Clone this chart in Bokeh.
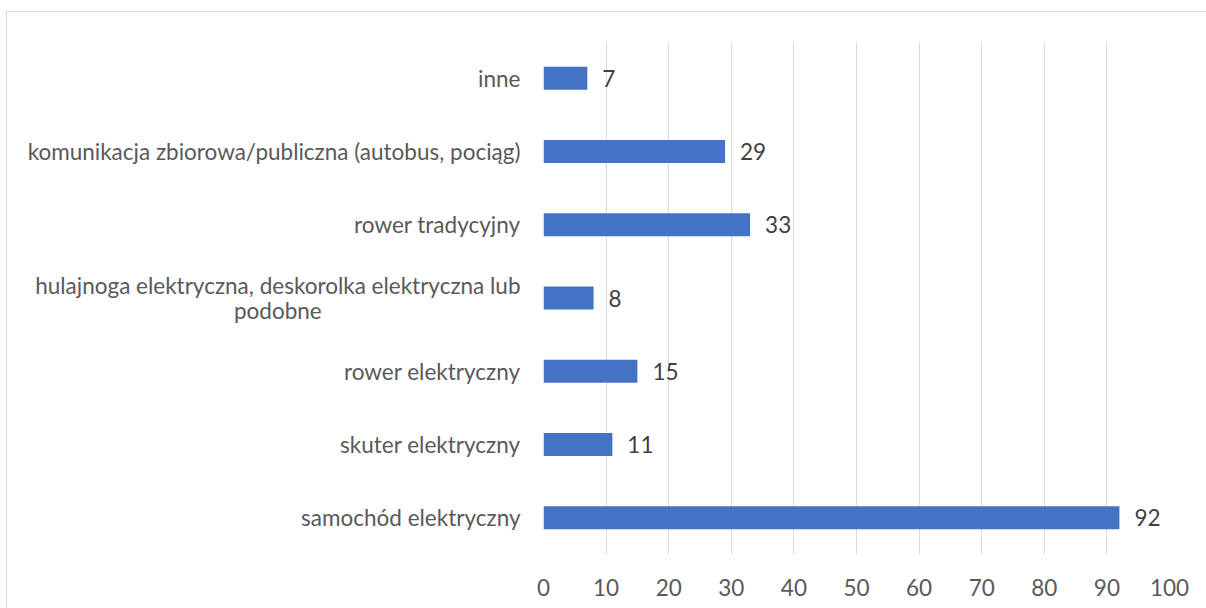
from bokeh.plotting import figure
from bokeh.models import ColumnDataSource, FactorRange, Range1d, FixedTicker
from bokeh.core.properties import value
from bokeh.embed import file_html
from bokeh.resources import INLINE

categories = [
    "samochód elektryczny",
    "skuter elektryczny",
    "rower elektryczny",
    "hulajnoga elektryczna, deskorolka elektryczna lub\npodobne",
    "rower tradycyjny",
    "komunikacja zbiorowa/publiczna (autobus, pociąg)",
    "inne",
]
counts = [92, 11, 15, 8, 33, 29, 7]
x_ticks = [0, 10, 20, 30, 40, 50, 60, 70, 80, 90, 100]

FONT = "Lato"
FS = "22.5px"
GRID = "#d9d9d9"

src = ColumnDataSource(dict(cat=categories, val=counts, lbl=[str(v) for v in counts],
                            base=[0] * len(counts)))

p = figure(
    width=1206, height=608,
    y_range=FactorRange(factors=categories),
    x_range=Range1d(0, 100),
    output_backend="svg", toolbar_location=None,
    min_border_left=543, min_border_right=37,
    min_border_top=41, min_border_bottom=54,
)
# chart-area border (top and left edges visible, as in the original)
p.border_fill_alpha = 0
p.background_fill_alpha = 0
p.styles = {
    "background": (
        f"linear-gradient({GRID},{GRID}) 6px 11px / 100% 1px no-repeat, "
        f"linear-gradient({GRID},{GRID}) 6px 11px / 1px 100% no-repeat, white"
    )
}
p.outline_line_color = None

p.hbar(y="cat", right="val", left="base", height=0.314, source=src,
       fill_color="#4472C4", line_color=None)
p.text(x="val", y="cat", text="lbl", source=src, x_offset=15,
       text_baseline="middle", text_align="left",
       text_font=value(FONT), text_font_size=FS, text_color="#404040")

# category labels (right-anchored block, centred lines like the original)
p.text(x="base", y="cat", text="cat", source=src, x_offset=-23,
       text_align="center", text_baseline="middle", anchor="center_right",
       text_line_height=0.9, level="annotation",
       text_font=value(FONT), text_font_size=FS, text_color="#595959")

p.xaxis.ticker = FixedTicker(ticks=x_ticks)
p.xaxis.axis_line_color = None
p.xaxis.major_tick_line_color = None
p.xaxis.minor_tick_line_color = None
p.xaxis.major_label_standoff = 18
p.xaxis.major_label_text_font = FONT
p.xaxis.major_label_text_font_size = FS
p.xaxis.major_label_text_color = "#595959"

p.yaxis.visible = False

p.xgrid.grid_line_color = GRID
p.xgrid.grid_line_width = 1
p.ygrid.grid_line_color = None

open("out.html", "w").write(file_html(p, INLINE))
